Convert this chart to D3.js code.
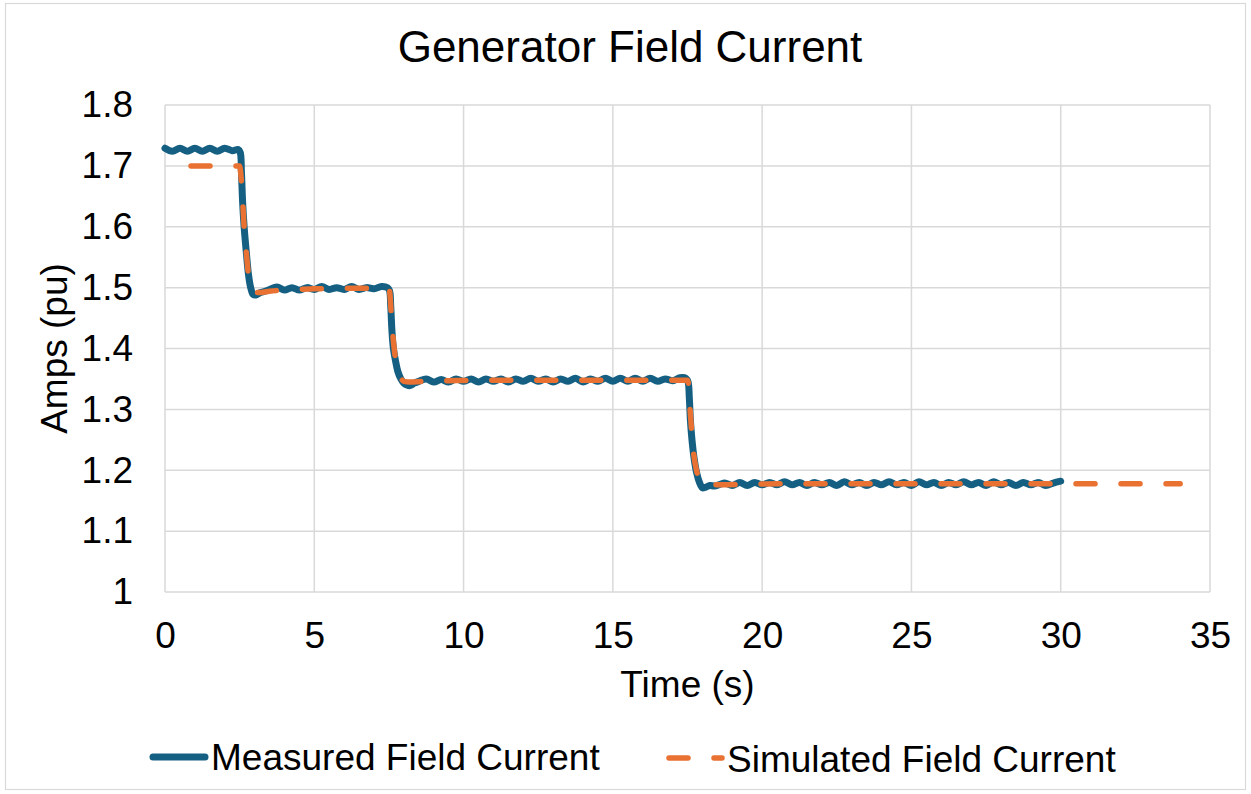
<!DOCTYPE html>
<html>
<head>
<meta charset="utf-8">
<script src="https://cdn.jsdelivr.net/npm/d3@7"></script>
<style>
  html, body { margin: 0; padding: 0; background: #fff; }
  svg { display: block; }
  text { font-family: "Liberation Sans", Arial, sans-serif; fill: #000; }
</style>
</head>
<body>
<svg id="chart" width="1251" height="794"></svg>
<script>
// ---------- data ----------
const chartTitle = "Generator Field Current";
const xAxisTitle = "Time (s)";
const yAxisTitle = "Amps (pu)";
const seriesNames = ["Measured Field Current", "Simulated Field Current"];
const xTicks = [0, 5, 10, 15, 20, 25, 30, 35];
const yTicks = [1, 1.1, 1.2, 1.3, 1.4, 1.5, 1.6, 1.7, 1.8];

const measuredTime = [
  0, 0.25, 0.5, 0.75, 1.0, 1.25, 1.5, 1.75, 2.0, 2.25, 2.45,
  2.52, 2.56, 2.6, 2.65, 2.72, 2.8, 2.87, 2.95, 3.05, 3.2, 3.35,
  3.5, 3.75, 4.0, 4.25, 4.5, 4.75, 5.0, 5.25, 5.5, 5.75, 6.0, 6.25, 6.5, 6.75, 7.0, 7.25, 7.45,
  7.52, 7.56, 7.6, 7.65, 7.72, 7.8, 7.9, 8.0, 8.1, 8.2, 8.35, 8.5,
  8.75, 9.0, 9.25, 9.5, 9.75, 10.0, 10.25, 10.5, 10.75, 11.0, 11.25, 11.5, 11.75, 12.0,
  12.25, 12.5, 12.75, 13.0, 13.25, 13.5, 13.75, 14.0, 14.25, 14.5, 14.75, 15.0, 15.25,
  15.5, 15.75, 16.0, 16.25, 16.5, 16.75, 17.0, 17.25, 17.45,
  17.52, 17.56, 17.6, 17.65, 17.72, 17.8, 17.9, 18.0, 18.1, 18.25, 18.4, 18.6,
  18.75, 19.0, 19.25, 19.5, 19.75, 20.0, 20.25, 20.5, 20.75, 21.0, 21.25, 21.5, 21.75, 22.0,
  22.25, 22.5, 22.75, 23.0, 23.25, 23.5, 23.75, 24.0, 24.25, 24.5, 24.75, 25.0, 25.25,
  25.5, 25.75, 26.0, 26.25, 26.5, 26.75, 27.0, 27.25, 27.5, 27.75, 28.0, 28.25, 28.5,
  28.75, 29.0, 29.25, 29.5, 29.75, 30.0
];
const measuredValue = [
  1.729, 1.724, 1.729, 1.724, 1.729, 1.724, 1.729, 1.724, 1.729, 1.725, 1.727,
  1.722, 1.690, 1.640, 1.600, 1.560, 1.520, 1.500, 1.489, 1.488, 1.492, 1.494,
  1.497, 1.501, 1.496, 1.500, 1.496, 1.500, 1.497, 1.502, 1.497, 1.500, 1.497, 1.502, 1.497, 1.500, 1.498, 1.502, 1.500,
  1.495, 1.470, 1.430, 1.400, 1.380, 1.362, 1.350, 1.343, 1.340, 1.339, 1.343, 1.346,
  1.350, 1.345, 1.349, 1.345, 1.350, 1.346, 1.350, 1.345, 1.350, 1.346, 1.350, 1.345, 1.350, 1.346,
  1.351, 1.346, 1.350, 1.345, 1.350, 1.346, 1.351, 1.345, 1.350, 1.346, 1.351, 1.346, 1.351,
  1.346, 1.351, 1.346, 1.351, 1.346, 1.350, 1.347, 1.352, 1.351,
  1.345, 1.320, 1.280, 1.250, 1.220, 1.197, 1.180, 1.171, 1.172, 1.175, 1.174, 1.177,
  1.179, 1.175, 1.180, 1.175, 1.180, 1.176, 1.180, 1.176, 1.181, 1.176, 1.180, 1.175, 1.180, 1.176,
  1.180, 1.175, 1.181, 1.176, 1.180, 1.175, 1.180, 1.176, 1.181, 1.176, 1.180, 1.175, 1.181,
  1.176, 1.180, 1.175, 1.180, 1.176, 1.181, 1.176, 1.180, 1.175, 1.181, 1.176, 1.180, 1.175,
  1.180, 1.176, 1.180, 1.175, 1.179, 1.182
];

const simulatedTime = [
  0, 2.5, 2.52, 2.58, 2.65, 2.72, 2.8, 2.9, 3.0, 3.2, 3.5, 4.0, 5.0, 6.0, 7.0, 7.5,
  7.52, 7.6, 7.7, 7.8, 7.9, 8.0, 8.2, 8.6, 9.5, 11.0, 17.5,
  17.52, 17.6, 17.7, 17.8, 17.9, 18.0, 18.2, 18.6, 19.5, 21.0, 34.0
];
const simulatedValue = [
  1.700, 1.700, 1.695, 1.660, 1.600, 1.560, 1.520, 1.500, 1.492, 1.492, 1.494, 1.496, 1.498, 1.499, 1.499, 1.499,
  1.495, 1.440, 1.390, 1.365, 1.352, 1.346, 1.345, 1.346, 1.347, 1.348, 1.348,
  1.345, 1.290, 1.230, 1.200, 1.185, 1.178, 1.176, 1.176, 1.177, 1.178, 1.178
];

// ---------- layout ----------
const W = 1251, H = 794;
const margin = { left: 165, right: 41, top: 105, bottom: 202 };
const pw = W - margin.left - margin.right;
const ph = H - margin.top - margin.bottom;
const blue = "#156082", orange = "#E97132", grid = "#d9d9d9";
const fontFamily = "Liberation Sans, Arial, sans-serif";

const svg = d3.select("#chart");
svg.append("rect").attr("x", 5.5).attr("y", 3.5).attr("width", 1240).attr("height", 786)
  .attr("fill", "#fff").attr("stroke", grid).attr("stroke-width", 1.2);

const x = d3.scaleLinear().domain([0, 35]).range([0, pw]);
const y = d3.scaleLinear().domain([1, 1.8]).range([ph, 0]);

const g = svg.append("g").attr("transform", `translate(${margin.left},${margin.top})`);

// gridlines
g.append("g").selectAll("line").data(yTicks).join("line")
  .attr("x1", 0).attr("x2", pw).attr("y1", d => y(d)).attr("y2", d => y(d))
  .attr("stroke", grid).attr("stroke-width", 1.5);
g.append("g").selectAll("line").data(xTicks).join("line")
  .attr("y1", 0).attr("y2", ph).attr("x1", d => x(d)).attr("x2", d => x(d))
  .attr("stroke", grid).attr("stroke-width", 1.5);

// axes (labels only)
const xAxis = d3.axisBottom(x).tickValues(xTicks).tickSize(0).tickPadding(30).tickFormat(d3.format("d"));
const gx = g.append("g").attr("transform", `translate(0,${ph})`).call(xAxis);
gx.select(".domain").remove();
gx.selectAll("text").attr("font-size", 37).attr("font-family", fontFamily).attr("fill", "#000");

const yAxis = d3.axisLeft(y).tickValues(yTicks).tickSize(0).tickPadding(32).tickFormat(d => String(+d.toFixed(1)));
const gy = g.append("g").call(yAxis);
gy.select(".domain").remove();
gy.selectAll("text").attr("font-size", 37).attr("font-family", fontFamily).attr("fill", "#000");

// lines
const measured = measuredTime.map((t, i) => [t, measuredValue[i]]);
const simulated = simulatedTime.map((t, i) => [t, simulatedValue[i]]);
const lineMeas = d3.line().x(d => x(d[0])).y(d => y(d[1])).curve(d3.curveCatmullRom.alpha(0.5));
const lineSim = d3.line().x(d => x(d[0])).y(d => y(d[1])).curve(d3.curveMonotoneX);

g.append("path").datum(measured).attr("d", lineMeas)
  .attr("fill", "none").attr("stroke", blue).attr("stroke-width", 7)
  .attr("stroke-linejoin", "round").attr("stroke-linecap", "round");
g.append("path").datum(simulated).attr("d", lineSim)
  .attr("fill", "none").attr("stroke", orange).attr("stroke-width", 5.5)
  .attr("stroke-dasharray", "19,26").attr("stroke-dashoffset", 19)
  .attr("stroke-linejoin", "round").attr("stroke-linecap", "round");

// titles
svg.append("text").attr("x", 630).attr("y", 62)
  .attr("text-anchor", "middle").attr("font-size", 44).text(chartTitle);
svg.append("text").attr("x", margin.left + pw / 2).attr("y", 697)
  .attr("text-anchor", "middle").attr("font-size", 37).text(xAxisTitle);
svg.append("text").attr("transform", `translate(67,${margin.top + ph / 2}) rotate(-90)`)
  .attr("text-anchor", "middle").attr("font-size", 37).text(yAxisTitle);

// legend
const lg = svg.append("g");
lg.append("line").attr("x1", 153).attr("x2", 205).attr("y1", 757).attr("y2", 757)
  .attr("stroke", blue).attr("stroke-width", 7).attr("stroke-linecap", "round");
lg.append("text").attr("x", 211).attr("y", 770).attr("font-size", 37).text(seriesNames[0]);
lg.append("line").attr("x1", 669).attr("x2", 722).attr("y1", 758).attr("y2", 758)
  .attr("stroke", orange).attr("stroke-width", 5.5).attr("stroke-linecap", "round")
  .attr("stroke-dasharray", "19,26");
lg.append("text").attr("x", 727).attr("y", 772).attr("font-size", 37).text(seriesNames[1]);
</script>
</body>
</html>
